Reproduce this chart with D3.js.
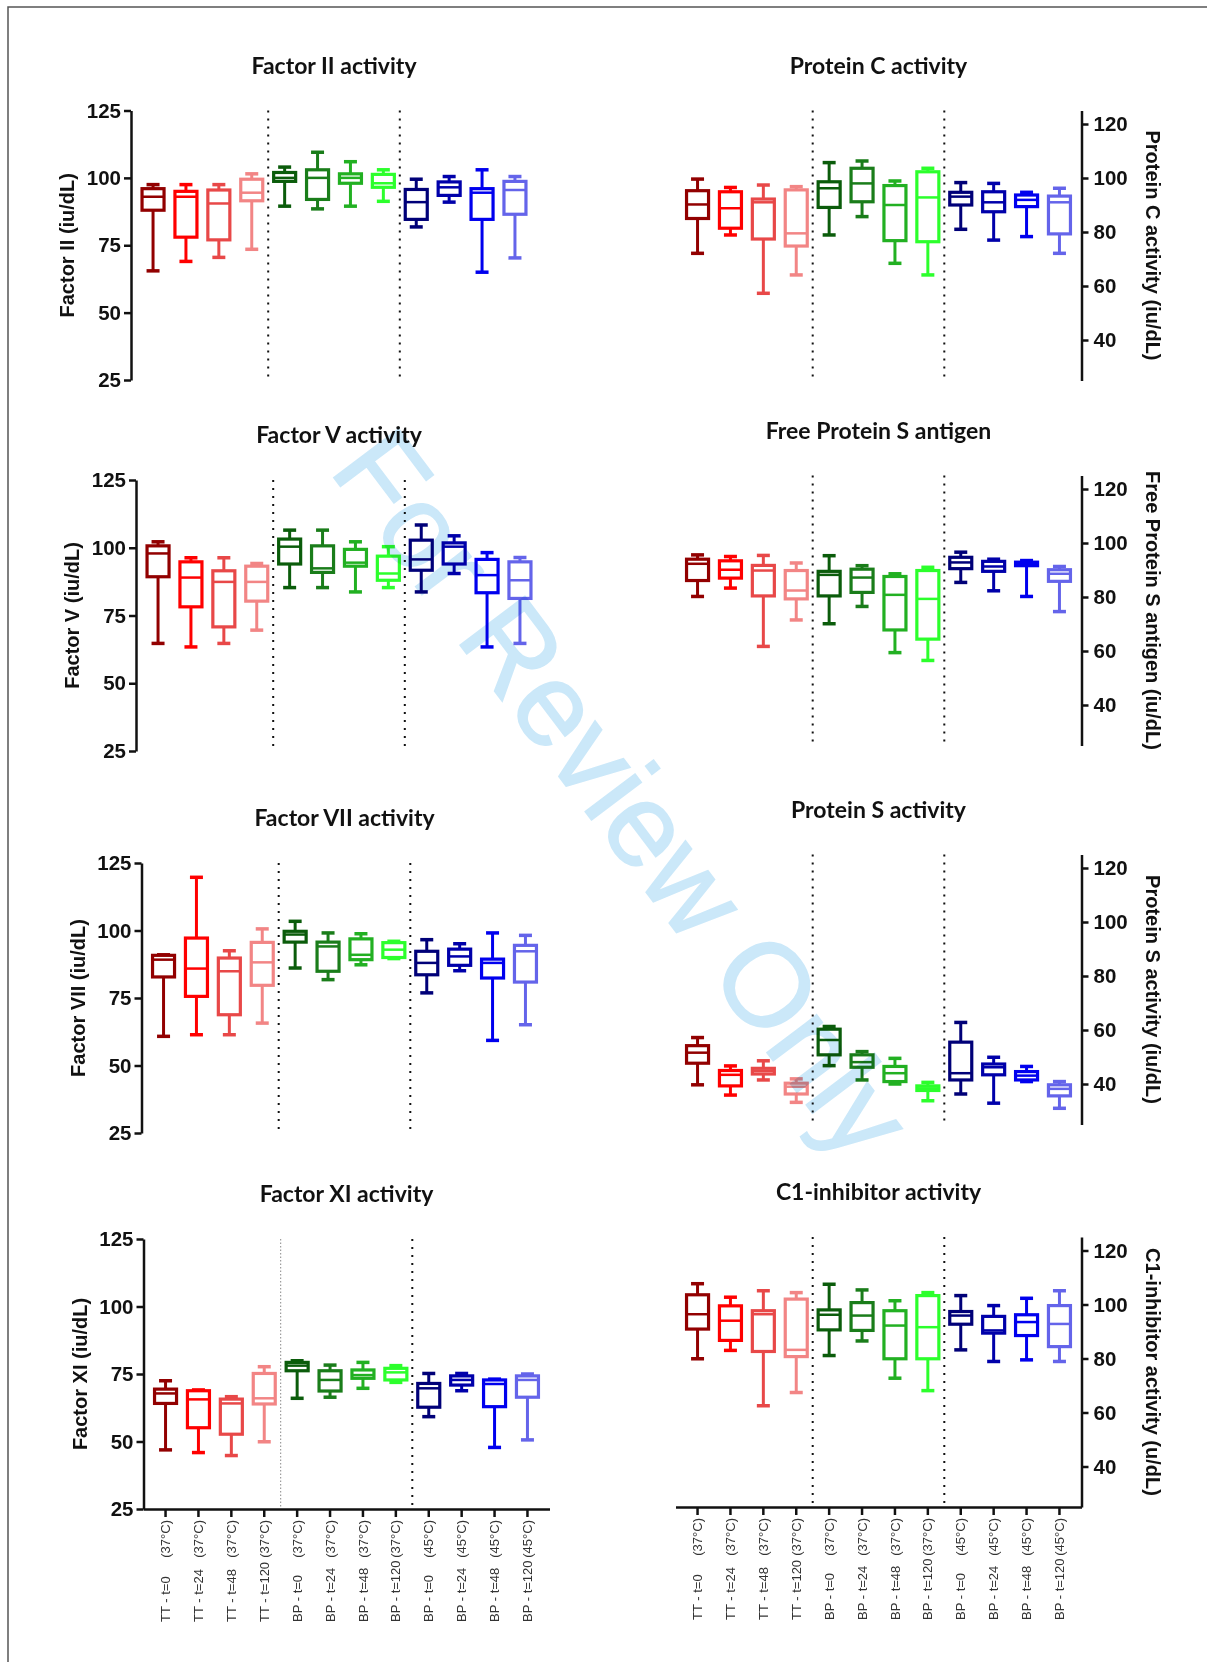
<!DOCTYPE html>
<html>
<head>
<meta charset="utf-8">
<script src="https://cdn.jsdelivr.net/npm/d3@7"></script>
<style>
  body { margin: 0; background: #fff; }
  svg { display: block; }
  .title { font-family: Lato, "Open Sans", sans-serif; font-weight: 700; font-size: 23px; fill: #111; }
  .ylab { font-family: "Liberation Sans", Arial, sans-serif; font-weight: 700; font-size: 20px; fill: #111; }
  .xlab { font-family: "Liberation Sans", Arial, sans-serif; font-size: 13px; fill: #333; }
  .watermark { font-family: "Liberation Sans", Arial, sans-serif; font-size: 118px; fill: #cbe8f9; stroke: #cbe8f9; stroke-width: 1.5; mix-blend-mode: multiply; }
</style>
</head>
<body>
<svg id="chart" width="1207" height="1662"></svg>
<script>
// group labels on the x axis (two parts: time point, temperature)
const timeLabels = ["TT - t=0", "TT - t=24", "TT - t=48", "TT - t=120",
                    "BP - t=0", "BP - t=24", "BP - t=48", "BP - t=120",
                    "BP - t=0", "BP - t=24", "BP - t=48", "BP - t=120"];
const tempLabels = ["(37°C)", "(37°C)", "(37°C)", "(37°C)",
                    "(37°C)", "(37°C)", "(37°C)", "(37°C)",
                    "(45°C)", "(45°C)", "(45°C)", "(45°C)"];

const boxColors = ["#920000", "#ff0000", "#e84848", "#f28585",
                   "#0b5c0b", "#1a7d1a", "#22b022", "#2cff2c",
                   "#000078", "#0000aa", "#0000ee", "#6464ea"];

const leftTicks = [25, 50, 75, 100, 125];
const rightTicks = [40, 60, 80, 100, 120];

// [min, Q1, median, Q3, max] per group
const factorII = [
  [65.5, 88, 93, 96, 97.5], [69, 78, 93, 95, 97.5], [70.5, 77, 90.5, 95.5, 97.5], [73.5, 91.5, 94.5, 99.5, 101.5],
  [89.5, 98.7, 100, 102, 104], [88.5, 92, 100, 103, 109.5], [89.5, 98, 100, 101.5, 106], [91.3, 96.5, 98, 101.3, 103],
  [81.8, 84.6, 91, 95.7, 99.5], [91, 93.5, 96.5, 98.5, 100.5], [65, 84.6, 94.5, 96, 103], [70.3, 86.5, 95.5, 98.7, 100.5]
];
const factorV = [
  [64.7, 89.3, 97.9, 100.7, 102.2], [63.4, 78.2, 89, 94.8, 96.3], [64.7, 70.8, 87.4, 91.5, 96.3], [69.6, 80.3, 87.4, 93.2, 94.2],
  [85.3, 94, 100.4, 103.2, 106.5], [85.3, 90.9, 92.4, 100.7, 106.5], [83.7, 93.2, 94.5, 99.4, 102.2], [85.3, 88, 90.5, 96.9, 100.4],
  [83.7, 91.7, 95.7, 102.8, 108.4], [90.5, 94, 100.4, 101.8, 104.4], [63.4, 83.4, 89.9, 95.7, 98.2], [64.7, 81.3, 88, 94.8, 96.4]
];
const factorVII = [
  [60.8, 82.8, 89.2, 90.8, 91], [61.4, 75.6, 85.9, 97.2, 119.7], [61.4, 68.8, 84.9, 89.8, 92.5], [65.7, 79.7, 88.2, 95.6, 100.6],
  [86.1, 95.7, 98.5, 99.7, 103.4], [81.8, 84.9, 94.1, 95.7, 99.1], [87.3, 89.2, 91, 96.9, 98.8], [89.6, 90, 92.9, 95.5, 96],
  [76.9, 83.6, 88, 92.3, 96.6], [85.1, 87.1, 90.4, 93.1, 95.1], [59.3, 82.4, 88, 89.4, 99.1], [65.1, 80.9, 92.3, 94.5, 98.2]
];
const factorXI = [
  [46.9, 64.1, 67.8, 69.4, 72.5], [45.9, 55.1, 65.6, 68.8, 69.1], [44.8, 52.7, 64.1, 65.7, 66.6], [49.9, 63.9, 66, 75.2, 77.7],
  [66, 76.2, 78.1, 79.3, 79.9], [66.4, 68.7, 72.8, 76.2, 78.3], [69.7, 73.4, 74.6, 76.5, 79.3], [71.9, 72.8, 75.6, 77.1, 78.1],
  [59.2, 62.7, 69.7, 71.5, 75.2], [68.8, 70.9, 72.8, 74.3, 75.2], [47.8, 62.9, 71.3, 72.8, 73.1], [50.6, 66.4, 72.8, 74.3, 75]
];
const proteinC = [
  [72.1, 85, 90.2, 95.3, 99.6], [78.9, 81.4, 88.8, 94.9, 96.5], [57.3, 77.4, 91, 92.2, 97.4], [64.1, 74.8, 79.5, 95.6, 96.8],
  [78.9, 89.1, 96.2, 98.6, 105.7], [85.7, 91.2, 98, 103.6, 106.3], [68.4, 76.8, 90, 97.2, 98.9], [64.1, 76.4, 92.8, 102.3, 103.6],
  [81, 90, 93.1, 94.7, 98.3], [77, 87.5, 91, 94.9, 98], [78.3, 89.4, 91.9, 93.7, 94.7], [72.1, 79.3, 91, 93.3, 96.2]
];
const freeProteinS = [
  [80.2, 86.1, 92.3, 94, 95.6], [83.3, 87, 90.1, 93.4, 95], [61.7, 80.4, 89.8, 91.7, 95.4], [71.5, 79.3, 82.4, 89.8, 92.6],
  [70.1, 80.4, 88.2, 89.5, 95.3], [76.5, 81.7, 87.2, 90.3, 91.6], [59.4, 67.8, 80.8, 87.6, 88.6], [56.5, 64.4, 79.3, 89.8, 91],
  [85.4, 90.5, 92.8, 94.7, 96.6], [82.3, 89.5, 91.3, 93.2, 94], [80.2, 91.6, 92.2, 92.9, 93.5], [74.6, 85.8, 88.6, 90.1, 91.3]
];
const proteinS = [
  [39.7, 47.7, 51.6, 54.2, 57.2], [35.9, 39.3, 43.4, 45, 46.7], [41.5, 43.7, 44.8, 45.8, 48.6], [33.2, 36.3, 39, 40.3, 41.9],
  [46.8, 50.8, 56.3, 60.3, 61.3], [41.5, 46.2, 48.1, 50.8, 52], [40, 40.9, 44, 46.5, 49.5], [33.8, 37.6, 38.4, 39.3, 40.6],
  [36.3, 41.5, 44, 55.5, 62.8], [32.9, 43.4, 46.2, 47.4, 49.9], [40.9, 41.5, 43.1, 44.6, 46.5], [31, 35.6, 38.2, 39.7, 40.9]
];
const c1Inhibitor = [
  [79.9, 90.9, 96.4, 103.6, 107.7], [83, 86.7, 94, 99.5, 102.7], [62.5, 82.6, 96.4, 97.7, 105.1], [67.4, 80.7, 83.2, 102, 104.4],
  [81.1, 90.6, 96.2, 98, 107.5], [86.5, 90.4, 95.9, 100.7, 105.4], [72.7, 79.9, 92.2, 97.7, 101.4], [68.1, 79.9, 91.6, 103.3, 104.4],
  [83.2, 92.7, 95.9, 97.4, 103.3], [78.9, 89.4, 90.4, 95.6, 99.6], [79.5, 88.5, 93.5, 96.2, 102.3], [78.9, 84.4, 92.8, 99.6, 105.1]
];

// panel placement (each graph was pasted separately, so offsets differ a bit)
const panels = [
  { title: "Factor II activity", ylabel: "Factor II (iu/dL)", values: factorII, side: "left", x0: 131, top: 110.5, bottom: 380 },
  { title: "Factor V activity", ylabel: "Factor V (iu/dL)", values: factorV, side: "left", x0: 136, top: 480, bottom: 751 },
  { title: "Factor VII activity", ylabel: "Factor VII (iu/dL)", values: factorVII, side: "left", x0: 141.5, top: 863, bottom: 1133 },
  { title: "Factor XI activity", ylabel: "Factor XI (iu/dL)", values: factorXI, side: "left", x0: 143.5, top: 1239, bottom: 1509, xAxis: true, thinFirst: true },
  { title: "Protein C activity", ylabel: "Protein C activity (iu/dL)", values: proteinC, side: "right", x0: 675.5, top: 110.5, bottom: 380.5 },
  { title: "Free Protein S antigen", ylabel: "Free Protein S antigen (iu/dL)", values: freeProteinS, side: "right", x0: 675.5, top: 475.5, bottom: 745.5 },
  { title: "Protein S activity", ylabel: "Protein S activity (iu/dL)", values: proteinS, side: "right", x0: 675.5, top: 854.5, bottom: 1124.5 },
  { title: "C1-inhibitor activity", ylabel: "C1-inhibitor activity (u/dL)", values: c1Inhibitor, side: "right", x0: 675.5, top: 1237, bottom: 1507, xAxis: true }
];

const plotW = 406;
const boxW = 22, capW = 13;

const svg = d3.select('#chart');

// page frame
svg.append('path')
  .attr('d', 'M8,1662 V7 H1207')
  .attr('fill', 'none')
  .attr('stroke', '#555')
  .attr('stroke-width', 1.5);

panels.forEach(drawPanel);

// review watermark
svg.append('text')
  .attr('class', 'watermark')
  .attr('transform', 'translate(328,470) rotate(53)')
  .text('For Review Only');

function drawPanel(p) {
  const g = svg.append('g');
  const x = d3.scaleBand()
    .domain(d3.range(timeLabels.length))
    .range([p.x0, p.x0 + plotW])
    .paddingInner(0)
    .paddingOuter(0.17);
  const y = d3.scaleLinear().domain([25, 125]).range([p.bottom, p.top]);
  const cx = i => x(i) + x.bandwidth() / 2;
  const step = x.step();

  // title
  g.append('text')
    .attr('class', 'title')
    .attr('x', p.x0 + plotW / 2)
    .attr('y', p.top - 37)
    .attr('text-anchor', 'middle')
    .text(p.title);

  // dotted separators between TT / BP 37 / BP 45
  [3, 7].forEach((k, j) => {
    const xs = cx(k) + step / 2;
    const thin = p.thinFirst && j === 0;
    g.append('line')
      .attr('x1', xs).attr('x2', xs)
      .attr('y1', p.top).attr('y2', p.bottom - 2)
      .attr('stroke', thin ? '#888' : '#111')
      .attr('stroke-width', thin ? 1 : 2)
      .attr('stroke-dasharray', thin ? '1.5,2' : '2,6');
  });

  // y axis
  let axisX, yAxis, labX, labRot;
  if (p.side === 'left') {
    axisX = p.x0;
    yAxis = d3.axisLeft(y).tickValues(leftTicks).tickSize(7).tickSizeOuter(0).tickPadding(3);
    labX = p.x0 - 57; labRot = -90;
  } else {
    axisX = p.x0 + plotW;
    yAxis = d3.axisRight(y).tickValues(rightTicks).tickSize(7).tickSizeOuter(0).tickPadding(5);
    labX = axisX + 64; labRot = 90;
  }
  const ya = g.append('g')
    .attr('transform', `translate(${axisX},0)`)
    .call(yAxis);
  ya.attr('color', '#111');
  ya.selectAll('path, line').attr('stroke-width', 2.5);
  ya.selectAll('text')
    .attr('font-family', '"Liberation Sans", Arial, sans-serif')
    .attr('font-weight', 700)
    .attr('font-size', 20.5)
    .attr('fill', '#111');

  g.append('text')
    .attr('class', 'ylab')
    .attr('transform', `translate(${labX},${(p.top + p.bottom) / 2}) rotate(${labRot})`)
    .attr('text-anchor', 'middle')
    .text(p.ylabel);

  // x axis (bottom row only)
  if (p.xAxis) {
    const xa = g.append('g')
      .attr('transform', `translate(0,${p.bottom})`)
      .call(d3.axisBottom(x).tickSize(8).tickSizeOuter(0).tickFormat(''));
    xa.attr('color', '#111');
    xa.selectAll('path, line').attr('stroke-width', 2.5);
    xa.selectAll('.tick').each(function (i) {
      const t = d3.select(this).append('g')
        .attr('transform', 'translate(0,11) rotate(-90)');
      t.append('text')
        .attr('class', 'xlab')
        .attr('x', 0).attr('dy', '0.35em')
        .attr('text-anchor', 'end')
        .text(tempLabels[i]);
      t.append('text')
        .attr('class', 'xlab')
        .attr('x', -102).attr('dy', '0.35em')
        .attr('text-anchor', 'start')
        .text(timeLabels[i]);
    });
  }

  // box plots
  const boxes = g.selectAll('.box')
    .data(p.values)
    .join('g')
    .attr('class', 'box');

  boxes.append('line')
    .attr('x1', (d, i) => cx(i)).attr('x2', (d, i) => cx(i))
    .attr('y1', d => y(d[0])).attr('y2', d => y(d[4]))
    .attr('stroke', (d, i) => boxColors[i])
    .attr('stroke-width', 3);

  boxes.selectAll('.cap')
    .data((d, i) => [[d[0], i], [d[4], i]])
    .join('line')
    .attr('class', 'cap')
    .attr('x1', d => cx(d[1]) - capW / 2).attr('x2', d => cx(d[1]) + capW / 2)
    .attr('y1', d => y(d[0])).attr('y2', d => y(d[0]))
    .attr('stroke', d => boxColors[d[1]])
    .attr('stroke-width', 3.5);

  boxes.append('rect')
    .attr('x', (d, i) => cx(i) - boxW / 2)
    .attr('y', d => y(d[3]))
    .attr('width', boxW)
    .attr('height', d => Math.max(0.5, y(d[1]) - y(d[3])))
    .attr('fill', '#fff')
    .attr('stroke', (d, i) => boxColors[i])
    .attr('stroke-width', 3.2);

  boxes.append('line')
    .attr('x1', (d, i) => cx(i) - boxW / 2).attr('x2', (d, i) => cx(i) + boxW / 2)
    .attr('y1', d => y(d[2])).attr('y2', d => y(d[2]))
    .attr('stroke', (d, i) => boxColors[i])
    .attr('stroke-width', 2.5);
}
</script>
</body>
</html>
